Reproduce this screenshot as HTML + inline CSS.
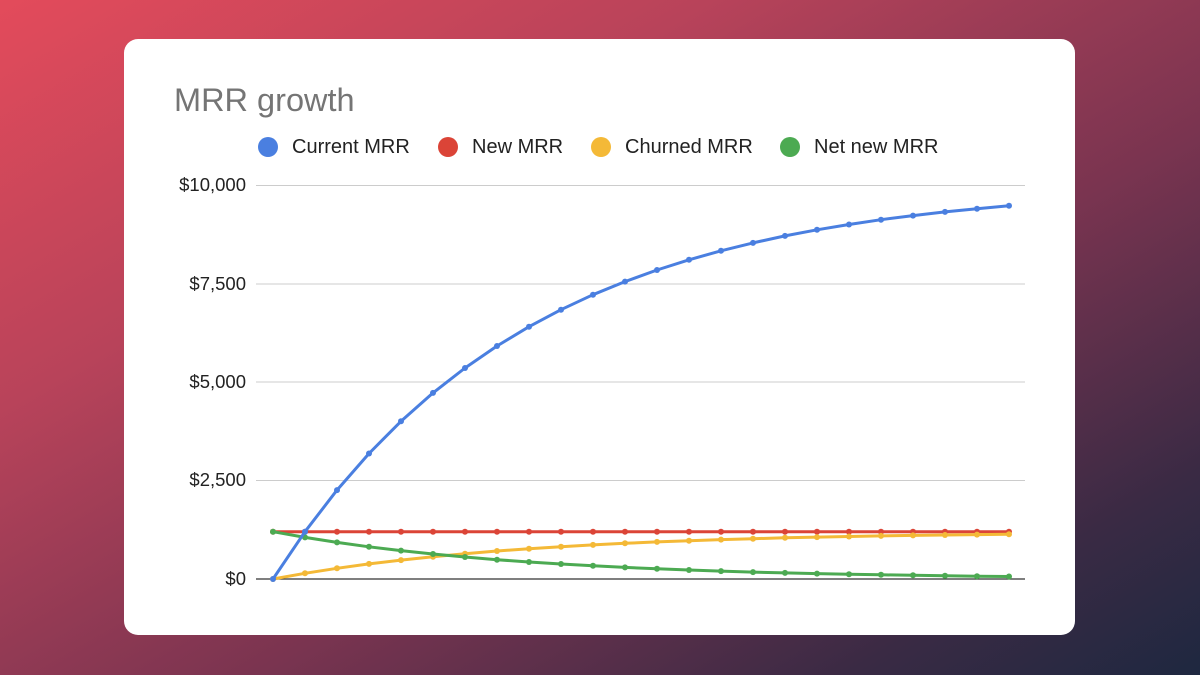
<!DOCTYPE html>
<html><head><meta charset="utf-8"><style>
html,body{margin:0;padding:0;width:1200px;height:675px;overflow:hidden;font-family:"Liberation Sans",Arial,sans-serif;}
body{background:linear-gradient(150deg,#e34b5b 0%,#b8435a 30%,#7a3450 60%,#3a2a44 85%,#1e2840 100%);}
</style></head><body>
<svg width="1200" height="675" style="position:absolute;left:0;top:0">
<defs>
<marker id="mb" markerWidth="8" markerHeight="8" refX="4" refY="4" markerUnits="userSpaceOnUse"><circle cx="4" cy="4" r="3" fill="#4a7fe0"/></marker>
<marker id="mr" markerWidth="8" markerHeight="8" refX="4" refY="4" markerUnits="userSpaceOnUse"><circle cx="4" cy="4" r="3" fill="#db4437"/></marker>
<marker id="my" markerWidth="8" markerHeight="8" refX="4" refY="4" markerUnits="userSpaceOnUse"><circle cx="4" cy="4" r="3" fill="#f4b937"/></marker>
<marker id="mg" markerWidth="8" markerHeight="8" refX="4" refY="4" markerUnits="userSpaceOnUse"><circle cx="4" cy="4" r="3" fill="#4caa52"/></marker>
</defs>
<rect x="124" y="39" width="951" height="596" rx="14" fill="#fff"/>
<text x="174" y="111" font-size="32.5" fill="#757575">MRR growth</text>
<g font-size="20" fill="#222">
<circle cx="268" cy="147" r="10" fill="#4a7fe0"/><text x="292" y="153">Current MRR</text>
<circle cx="448" cy="147" r="10" fill="#db4437"/><text x="472" y="153">New MRR</text>
<circle cx="601" cy="147" r="10" fill="#f4b937"/><text x="625" y="153">Churned MRR</text>
<circle cx="790" cy="147" r="10" fill="#4caa52"/><text x="814" y="153">Net new MRR</text>
</g>
<g stroke="#cccccc" stroke-width="1">
<line x1="256" y1="185.5" x2="1025" y2="185.5"/>
<line x1="256" y1="284" x2="1025" y2="284"/>
<line x1="256" y1="382" x2="1025" y2="382"/>
<line x1="256" y1="480.5" x2="1025" y2="480.5"/>
</g>
<line x1="256" y1="579" x2="1025" y2="579" stroke="#333" stroke-width="1.2"/>
<g font-size="18.5" fill="#222" text-anchor="end">
<text x="246" y="191">$10,000</text>
<text x="246" y="290">$7,500</text>
<text x="246" y="388">$5,000</text>
<text x="246" y="486">$2,500</text>
<text x="246" y="585">$0</text>
</g>
<g fill="none" stroke-width="3" stroke-linejoin="round">
<polyline stroke="#db4437" marker-start="url(#mr)" marker-mid="url(#mr)" marker-end="url(#mr)" points="273,531.7 305,531.7 337,531.7 369,531.7 401,531.7 433,531.7 465,531.7 497,531.7 529,531.7 561,531.7 593,531.7 625,531.7 657,531.7 689,531.7 721,531.7 753,531.7 785,531.7 817,531.7 849,531.7 881,531.7 913,531.7 945,531.7 977,531.7 1009,531.7"/>
<polyline stroke="#f4b937" marker-start="url(#my)" marker-mid="url(#my)" marker-end="url(#my)" points="273,579 305,573.3 337,568.3 369,563.9 401,560.1 433,556.7 465,553.7 497,551 529,548.7 561,546.7 593,544.9 625,543.3 657,541.9 689,540.7 721,539.6 753,538.7 785,537.8 817,537.1 849,536.5 881,535.9 913,535.4 945,535 977,534.6 1009,534.2"/>
<polyline stroke="#4caa52" marker-start="url(#mg)" marker-mid="url(#mg)" marker-end="url(#mg)" points="273,531.7 305,537.4 337,542.4 369,546.8 401,550.6 433,554 465,557 497,559.7 529,562 561,564 593,565.8 625,567.4 657,568.8 689,570 721,571.1 753,572.1 785,572.9 817,573.6 849,574.3 881,574.8 913,575.3 945,575.8 977,576.2 1009,576.5"/>
<polyline stroke="#4a7fe0" marker-start="url(#mb)" marker-mid="url(#mb)" marker-end="url(#mb)" points="273,579 305,531.7 337,490.1 369,453.5 401,421.3 433,392.9 465,368 497,346 529,326.7 561,309.7 593,294.7 625,281.6 657,270 689,259.8 721,250.8 753,242.9 785,235.9 817,229.8 849,224.5 881,219.7 913,215.6 945,211.9 977,208.7 1009,205.8"/>
</g>
</svg>
</body></html>
